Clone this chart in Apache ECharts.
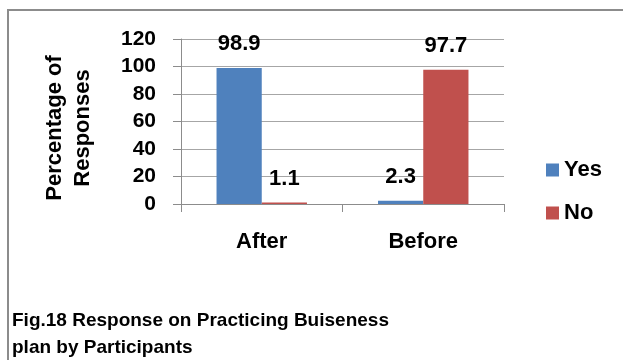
<!DOCTYPE html>
<html>
<head>
<meta charset="utf-8">
<script src="https://cdn.jsdelivr.net/npm/echarts@6/dist/echarts.min.js"></script>
<style>
  html, body { margin: 0; padding: 0; background: #fff; }
  #chart { width: 623px; height: 360px; }
</style>
</head>
<body>
<div id="chart"></div>
<script>
const categories = ['After', 'Before']
const yesValues = [98.9, 2.3]
const noValues = [1.1, 97.7]
const seriesNames = ['Yes', 'No']
const yTitle = 'Percentage of\nResponses'
const caption = 'Fig.18 Response on Practicing Buiseness\nplan by Participants'

const font = 'Liberation Sans'
const gray = '#8c8c8c'

const chart = echarts.init(document.getElementById('chart'), null, { renderer: 'canvas' })

const labelStyle = {
  show: true,
  position: 'top',
  distance: 13,
  color: '#000',
  fontFamily: font,
  fontWeight: 'bold',
  fontSize: 22,
}

chart.setOption({
  backgroundColor: '#fff',
  animation: false,
  grid: { left: 181, right: 119, top: 39, bottom: 156 },
  legend: {
    orient: 'vertical',
    left: 541,
    top: 154,
    itemWidth: 13,
    itemHeight: 13,
    itemGap: 21,
    icon: 'rect',
    textStyle: { fontFamily: font, fontWeight: 'bold', fontSize: 22, color: '#000' },
    data: seriesNames,
  },
  xAxis: {
    type: 'category',
    data: categories,
    axisLine: { lineStyle: { color: gray, width: 1 } },
    axisTick: { show: true, length: 8, lineStyle: { color: gray } },
    axisLabel: {
      margin: 27,
      color: '#000',
      fontFamily: font,
      fontWeight: 'bold',
      fontSize: 22,
    },
  },
  yAxis: {
    type: 'value',
    min: 0,
    max: 120,
    interval: 20,
    axisLine: { show: true, lineStyle: { color: gray, width: 1 } },
    axisTick: { show: true, length: 8, lineStyle: { color: gray } },
    splitLine: { lineStyle: { color: '#a6a6a6', width: 1 } },
    axisLabel: {
      margin: 25,
      color: '#000',
      fontFamily: font,
      fontWeight: 'bold',
      fontSize: 21,
    },
  },
  series: [
    {
      name: seriesNames[0],
      type: 'bar',
      data: yesValues,
      barGap: '0%',
      barCategoryGap: '44%',
      itemStyle: { color: '#4f81bd' },
      label: labelStyle,
    },
    {
      name: seriesNames[1],
      type: 'bar',
      data: noValues,
      itemStyle: { color: '#c0504d' },
      label: labelStyle,
    },
  ],
  graphic: [
    {
      type: 'rect',
      shape: { x: 8, y: 10, width: 640, height: 380 },
      style: { fill: 'none', stroke: '#8c8c8c', lineWidth: 2 },
      silent: true,
    },
    {
      type: 'text',
      x: 69,
      y: 128,
      rotation: Math.PI / 2,
      style: {
        text: yTitle,
        align: 'center',
        verticalAlign: 'middle',
        lineHeight: 28,
        fill: '#000',
        font: 'bold 22px "Liberation Sans"',
      },
    },
    {
      type: 'text',
      left: 12,
      top: 307,
      style: {
        text: caption,
        lineHeight: 27,
        fill: '#000',
        font: 'bold 19px "Liberation Sans"',
      },
    },
  ],
})
</script>
</body>
</html>
